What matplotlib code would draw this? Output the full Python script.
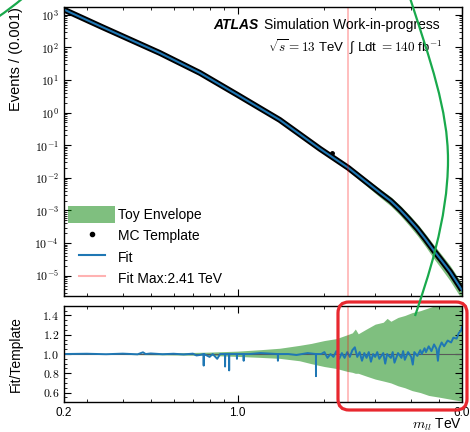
import numpy as np
import matplotlib
matplotlib.use("Agg")
import matplotlib.pyplot as plt
from matplotlib.lines import Line2D
from matplotlib.patches import Patch, FancyBboxPatch, PathPatch
from matplotlib.path import Path
from matplotlib.legend_handler import HandlerLine2D
from matplotlib.ticker import FixedLocator, LogLocator, FuncFormatter, NullFormatter, MultipleLocator
from matplotlib.transforms import Affine2D

plt.rcParams['font.family'] = ['Liberation Sans', 'DejaVu Sans']
plt.rcParams['mathtext.fontset'] = 'cm'

# spectrum (TeV, events per 1 GeV bin)
mass = np.array([0.25, 0.338, 0.537, 0.740, 1.0, 1.40, 1.93, 2.42, 3.12, 3.40, 3.66, 3.92, 4.20, 4.48,
                 4.77, 5.10, 5.46, 6.0])
template = np.array([1450, 428, 68, 16.6, 3.5, 0.60, 0.078, 0.0203, 3.47e-3, 1.95e-3, 1.05e-3, 5.5e-4,
                     2.75e-4, 1.32e-4, 6.2e-5, 2.9e-5, 1.31e-5, 3.6e-6])
fit_events = np.array([1450, 428, 68, 16.6, 3.5, 0.60, 0.078, 0.0203, 3.47e-3, 1.95e-3, 1.05e-3, 5.5e-4,
                       2.75e-4, 1.32e-4, 6.2e-5, 2.9e-5, 1.31e-5, 3.6e-6])
outlier_mass = [2.12]
outlier_events = [0.06]

# toy envelope relative to template, at the spectrum points
env_lo_top = np.array([1, 1, 1, 1, 0.975, 0.955, 0.90, 0.82, 0.73, 0.70, 0.68, 0.65, 0.62, 0.60,
                       0.57, 0.55, 0.53, 0.51])
env_hi_top = np.array([1, 1, 1, 1, 1.03, 1.06, 1.13, 1.20, 1.32, 1.34, 1.37, 1.40, 1.43, 1.46,
                       1.49, 1.52, 1.55, 1.60])

# ratio panel envelope
env_mass = [0.25, 0.4, 0.6, 0.8, 1.0, 1.2, 1.4, 1.64, 1.8, 2.0, 2.2, 2.4, 2.5, 2.56, 2.62, 2.8,
            3.0, 3.2, 3.3, 3.4, 3.6, 3.8, 4.03, 4.3, 4.6, 5.05, 5.5, 6.0]
env_lo = [0.997, 0.995, 0.99, 0.985, 0.975, 0.965, 0.955, 0.93, 0.90, 0.87, 0.85, 0.82, 0.81, 0.80, 0.80, 0.77,
          0.74, 0.72, 0.71, 0.70, 0.67, 0.65, 0.62, 0.60, 0.57, 0.55, 0.53, 0.51]
env_hi = [1.003, 1.006, 1.012, 1.02, 1.03, 1.045, 1.06, 1.09, 1.11, 1.14, 1.16, 1.20, 1.22, 1.26, 1.21, 1.26,
          1.31, 1.33, 1.37, 1.34, 1.38, 1.40, 1.43, 1.45, 1.48, 1.52, 1.56, 1.60]

# fit / template
ratio_mass = [0.25, 0.30, 0.35, 0.40, 0.45, 0.47, 0.48, 0.50, 0.55, 0.60, 0.65, 0.70, 0.72, 0.74,
              0.762, 0.763, 0.764, 0.80, 0.82, 0.85, 0.87, 0.904, 0.905, 0.906, 0.934, 0.935, 0.936,
              0.96, 0.994, 0.995, 0.996, 1.049, 1.05, 1.051, 1.1, 1.2, 1.379, 1.38, 1.381, 1.5, 1.6,
              1.75, 1.869, 1.87, 1.871, 1.95,
              2.0, 2.05, 2.1, 2.15, 2.2, 2.25, 2.3, 2.35, 2.4, 2.45, 2.5, 2.55, 2.6, 2.65, 2.7, 2.75,
              2.8, 2.85, 2.9, 2.95, 3.0, 3.05, 3.1, 3.2, 3.25, 3.3, 3.4, 3.45, 3.5, 3.6, 3.7, 3.75,
              3.8, 3.9, 4.0, 4.05, 4.1, 4.2, 4.3, 4.35, 4.45, 4.5, 4.6, 4.7, 4.8, 4.9, 4.95, 5.0,
              5.1, 5.2, 5.35, 5.5, 5.6, 5.75, 5.85, 5.95, 6.0]
ratio_vals = [1.0, 1.003, 0.998, 1.004, 0.997, 1.018, 1.0, 1.006, 0.998, 1.003, 0.996, 1.004, 0.985, 0.99,
              1.0, 0.88, 1.0, 0.97, 1.0, 0.95, 1.0, 1.0, 0.87, 1.0, 1.0, 0.83, 1.0,
              1.0, 1.0, 0.95, 1.0, 1.0, 0.93, 1.0, 1.0, 1.01, 1.0, 0.93, 1.0, 1.0, 0.99,
              1.01, 1.0, 0.77, 1.0, 1.0,
              1.02, 0.96, 1.0, 0.97, 1.03, 0.95, 1.01, 0.96, 1.02, 0.97, 1.04, 1.07, 0.97, 1.02, 0.93, 1.01,
              0.96, 1.02, 0.92, 1.0, 0.97, 1.02, 0.95, 1.01, 0.90, 1.0, 0.96, 1.02, 0.91, 1.01, 0.96, 1.03,
              0.94, 1.02, 0.97, 0.89, 1.02, 0.98, 1.04, 1.0, 1.06, 1.02, 1.08, 1.03, 1.10, 1.05, 0.93, 1.06,
              1.12, 1.08, 1.14, 1.12, 1.17, 1.16, 1.22, 1.24, 1.28]

fit_max = 2.41
x_min, x_max = 0.25, 6.0

blue = '#1f77b4'

fig = plt.figure(figsize=(4.7, 4.32), dpi=100)
ax = fig.add_axes([0.136, 0.315, 0.847, 0.669])
rax = fig.add_axes([0.136, 0.069, 0.847, 0.223])

# --- spectrum panel ---
ax.fill_between(mass, template * env_lo_top, template * env_hi_top, color='green', alpha=0.5, lw=0)
ax.plot(mass, template, color='k', lw=4.2, solid_capstyle='butt', solid_joinstyle='round')
ax.plot(outlier_mass, outlier_events, 'k.', ms=5)
ax.plot(mass, fit_events, color=blue, lw=1.5)
ax.axvline(fit_max, color='red', alpha=0.3, lw=1.2)

ax.set_xscale('log')
ax.set_yscale('log')
ax.set_xlim(x_min, x_max)
ax.set_ylim(2.4e-6, 1.75e3)

ax.yaxis.set_major_locator(LogLocator(base=10, numticks=20))
ax.yaxis.set_major_formatter(FuncFormatter(lambda v, p: r'$10^{%d}$' % round(np.log10(v))))
ax.yaxis.set_minor_locator(LogLocator(base=10, subs=np.arange(2, 10), numticks=20))
ax.yaxis.set_minor_formatter(NullFormatter())

ax.set_ylabel('Events / (0.001)', loc='top', fontsize=10.5)
ax.yaxis.set_label_coords(-0.103, 1.0)

ax.text(0.49, 0.938, 'ATLAS', transform=ax.transAxes, ha='right', va='center',
        fontsize=10, fontweight='bold', fontstyle='italic')
ax.text(0.945, 0.938, 'Simulation Work-in-progress', transform=ax.transAxes, ha='right', va='center',
        fontsize=10)
ax.text(0.95, 0.862, '$\\sqrt{s} = 13$ TeV  \u222b Ldt $= 140$ fb$^{-1}$', transform=ax.transAxes,
        ha='right', va='center', fontsize=9.5)

h_env = Patch(facecolor='green', alpha=0.5, lw=0)
h_tmpl = Line2D([], [], ls='none', marker='.', color='k', ms=6)
h_fit = Line2D([], [], color=blue, lw=1.5)
h_max = Line2D([], [], color='red', alpha=0.3, lw=1.5)
short_line = HandlerLine2D(numpoints=2, marker_pad=0.75)
ax.legend([h_env, h_tmpl, h_fit, h_max],
          ['Toy Envelope', 'MC Template', 'Fit', f'Fit Max:{fit_max} TeV'],
          loc='lower left', bbox_to_anchor=(0.0, 0.015), frameon=False, fontsize=10,
          handlelength=3.4, handleheight=1.6, labelspacing=0.25, handletextpad=0.2,
          borderpad=0.3, borderaxespad=0.0,
          handler_map={h_tmpl: HandlerLine2D(numpoints=1), h_fit: short_line, h_max: short_line})

# --- ratio panel ---
rax.fill_between(env_mass, env_lo, env_hi, color='green', alpha=0.5, lw=0)
rax.axhline(1.0, color='0.35', lw=0.8)
rax.plot(ratio_mass, ratio_vals, color=blue, lw=1.4)
rax.axvline(fit_max, color='red', alpha=0.3, lw=1.2)
rax.set_xscale('log')
rax.set_xlim(x_min, x_max)
rax.set_ylim(0.5, 1.5)
rax.yaxis.set_major_locator(FixedLocator([0.6, 0.8, 1.0, 1.2, 1.4]))
rax.yaxis.set_major_formatter(FuncFormatter(lambda v, p: r'$%.1f$' % v))
rax.yaxis.set_minor_locator(MultipleLocator(0.05))
rax.set_ylabel('Fit/Template', fontsize=10)
rax.yaxis.set_label_coords(-0.103, 0.5)
rax.set_xlabel(r'$m_{ll}$ TeV', loc='right', fontsize=10, labelpad=-1.6)

for a in (ax, rax):
    a.set_xticks([x_min, 1.0, x_max])
    a.set_xticklabels(['%.1f' % x_min, '1.0', '%.1f' % x_max])
    a.xaxis.set_minor_locator(LogLocator(base=10, subs=np.arange(2, 10), numticks=20))
    a.xaxis.set_minor_formatter(NullFormatter())
    a.tick_params(which='both', direction='in', top=True, right=True, labelsize=8.5)
    a.tick_params(which='major', length=5, width=0.8)
    a.tick_params(which='minor', length=2.5, width=0.6)
    for s in a.spines.values():
        s.set_linewidth(1.0)
ax.tick_params(labelbottom=False)

# overlay marks, in pixel units from the top-left corner
px = Affine2D().scale(0.01, -0.01).translate(0, 4.32) + fig.dpi_scale_trans
box = FancyBboxPatch((338, 302), 129, 108, boxstyle='round,pad=0,rounding_size=11',
                     transform=px, fill=False, ec='#e8282f', lw=2.3, clip_on=False)
fig.add_artist(box)
arc = Path([(410, -2), (430, 60), (448, 110), (448, 160), (448, 220), (427, 280), (415, 316)],
           [Path.MOVETO, Path.CURVE4, Path.CURVE4, Path.CURVE4, Path.CURVE4, Path.CURVE4, Path.CURVE4])
fig.add_artist(PathPatch(arc, transform=px, fill=False, ec='#19a94c', lw=1.6, clip_on=False))
corner = Path([(-2, 17), (10, 9), (23, -2)], [Path.MOVETO, Path.CURVE3, Path.CURVE3])
fig.add_artist(PathPatch(corner, transform=px, fill=False, ec='#19a94c', lw=1.6, clip_on=False))

fig.savefig('out.png', dpi=100)
